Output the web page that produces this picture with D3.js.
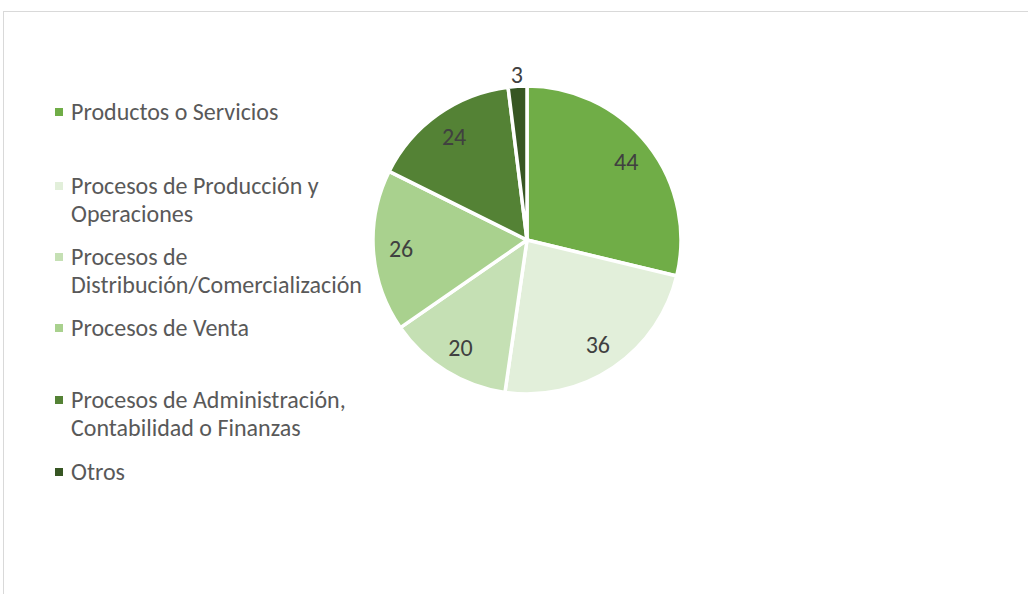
<!DOCTYPE html>
<html>
<head>
<meta charset="utf-8">
<script src="https://cdn.jsdelivr.net/npm/d3@7"></script>
<style>
body { margin: 0; background: #fff; }
svg text { font-family: Carlito, Calibri, Lato, sans-serif; }
</style>
</head>
<body>
<div id="chart"></div>
<script>
// data
var categories = [
	["Productos o Servicios"],
	["Procesos de Producción y", "Operaciones"],
	["Procesos de", "Distribución/Comercialización"],
	["Procesos de Venta"],
	["Procesos de Administración,", "Contabilidad o Finanzas"],
	["Otros"]
];
var values = [44, 36, 20, 26, 24, 3];
var colours = ["#70ad47", "#e2efda", "#c5e0b4", "#a9d18e", "#548235", "#375623"];

function init(){
	var width = 1028;
	var height = 594;

	var svg = d3.select("#chart").append("svg")
				.attr("width", width)
				.attr("height", height);

	//chart area border
	svg.append("rect")
		.attr("x", 3.5)
		.attr("y", 11.5)
		.attr("width", width + 10)
		.attr("height", height + 10)
		.attr("fill", "none")
		.attr("stroke", "#d9d9d9")
		.attr("stroke-width", 1);

	var cx = 527, cy = 240, radius = 154;

	var pie = d3.pie().sort(null).value(d => d);
	var arc = d3.arc().innerRadius(0).outerRadius(radius);
	var labelArc = d3.arc().innerRadius(radius * 0.82).outerRadius(radius * 0.82);
	var outerArc = d3.arc().innerRadius(radius + 12).outerRadius(radius + 12);

	var g = svg.append("g").attr("transform", "translate(" + cx + "," + cy + ")");

	var arcs = g.selectAll("g.slice")
				.data(pie(values))
				.enter().append("g")
				.attr("class", "slice");

	arcs.append("path")
		.attr("d", arc)
		.attr("fill", (d, i) => colours[i])
		.attr("stroke", "#fff")
		.attr("stroke-width", 3.5)
		.attr("stroke-linejoin", "round");

	arcs.append("text")
		.attr("transform", function(d){
			var small = (d.endAngle - d.startAngle) < 0.3;
			return "translate(" + (small ? outerArc : labelArc).centroid(d) + ")";
		})
		.attr("text-anchor", "middle")
		.attr("dy", "0.35em")
		.attr("fill", "#404040")
		.style("font-size", "24px")
		.text(d => d.value);

	//legend
	var legendY = [112, 186, 257, 328, 400, 472];
	var lineH = 28;

	var legend = svg.selectAll("g.legend")
					.data(categories)
					.enter().append("g")
					.attr("class", "legend")
					.attr("transform", (d, i) => "translate(0," + legendY[i] + ")");

	legend.append("rect")
		.attr("x", 55)
		.attr("y", -4)
		.attr("width", 8)
		.attr("height", 8)
		.attr("fill", (d, i) => colours[i]);

	legend.append("text")
		.attr("x", 71)
		.attr("y", 0)
		.attr("fill", "#595959")
		.style("font-size", "24px")
		.selectAll("tspan")
		.data(d => d)
		.enter().append("tspan")
		.attr("x", 71)
		.attr("dy", (d, i) => i == 0 ? "0.35em" : lineH)
		.text(d => d);
}

window.onload = init;
</script>
</body>
</html>
